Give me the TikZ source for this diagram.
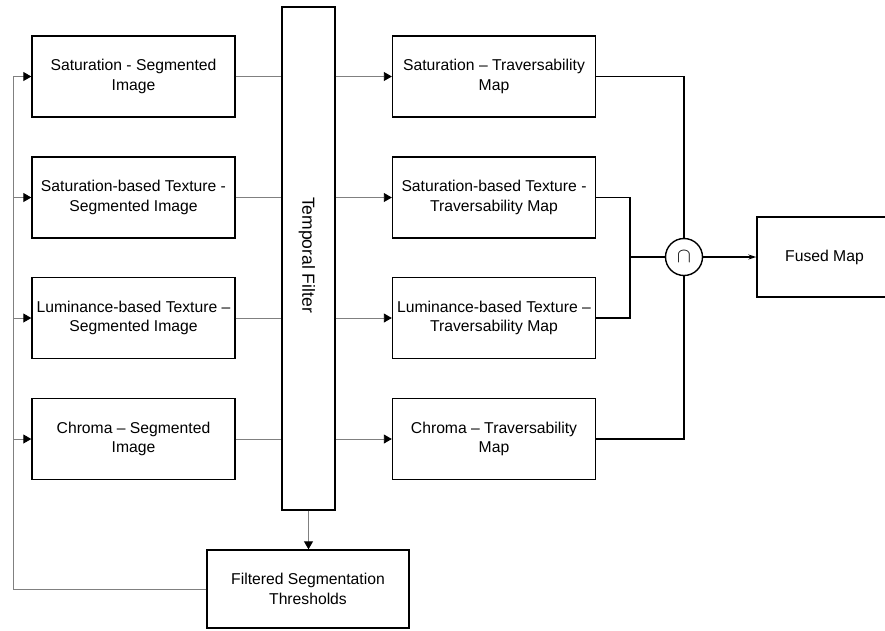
\documentclass[tikz,border=0pt]{standalone}
\usepackage{fontspec}
\setmainfont{Liberation Sans}
\usetikzlibrary{arrows.meta}
\tikzstyle{block} = [rectangle, draw, line width=1.4pt, minimum width=203pt, minimum height=81pt, align=center, inner sep=2pt, font=\fontsize{15.7}{19.5}\selectfont]
\tikzstyle{label} = [align=center, font=\fontsize{17.5}{20}\selectfont]
\tikzstyle{feed} = [draw=gray, line width=0.9pt]
\tikzstyle{reg} = [feed, -{Triangle[length=8pt, width=9pt, color=black]}]
\tikzstyle{bus} = [draw=black, line width=1.4pt]

\begin{document}
\begin{tikzpicture}[x=1pt, y=-1pt]
  \useasboundingbox (0,0) rectangle (885,630);

  % segmented images
  \node[block] (S1) at (133.5,76.5) {Saturation - Segmented\\Image};
  \node[block] (S2) at (133.5,197.5) {Saturation-based Texture -\\Segmented Image};
  \node[block] (S3) at (133.5,318) {Luminance-based Texture --\\Segmented Image};
  \node[block] (S4) at (133.5,439) {Chroma -- Segmented\\Image};

  % temporal filter
  \node[block, minimum width=53pt, minimum height=503pt] (TF) at (308.5,258.5) {};
  \node[label, rotate=-90] (TFtext) at (307,255) {Temporal Filter};

  % traversability maps
  \node[block] (T1) at (494,76.5) {Saturation -- Traversability\\Map};
  \node[block] (T2) at (494,197.5) {Saturation-based Texture -\\Traversability Map};
  \node[block] (T3) at (494,318) {Luminance-based Texture --\\Traversability Map};
  \node[block] (T4) at (494,439) {Chroma -- Traversability\\Map};

  % fusion
  \node[circle, draw, line width=1.4pt, minimum size=37pt, inner sep=0pt, font=\fontsize{20}{20}\selectfont] (cap) at (684,257) {$\cap$};
  \node[block, minimum width=135pt, minimum height=80pt] (F) at (824.5,257) {Fused Map};

  % thresholds
  \node[block, minimum width=202pt, minimum height=78pt] (FT) at (308,589) {Filtered Segmentation\\Thresholds};

  \coordinate (J) at (630,257);
  \coordinate (L) at (13,76.5);

  % into the filter
  \draw[feed] (S1.east) -- (S1.east -| TF.west);
  \draw[feed] (S2.east) -- (S2.east -| TF.west);
  \draw[feed] (S3.east) -- (S3.east -| TF.west);
  \draw[feed] (S4.east) -- (S4.east -| TF.west);

  % out of the filter
  \draw[reg] (TF.east |- T1.west) -- (T1.west);
  \draw[reg] (TF.east |- T2.west) -- (T2.west);
  \draw[reg] (TF.east |- T3.west) -- (T3.west);
  \draw[reg] (TF.east |- T4.west) -- (T4.west);
  \draw[reg] (TF.south) -- (TF.south |- FT.north);

  % feedback of thresholds
  \draw[feed] (FT.west) -| (L);
  \draw[reg] (S1.west -| L) -- (S1.west);
  \draw[reg] (S2.west -| L) -- (S2.west);
  \draw[reg] (S3.west -| L) -- (S3.west);
  \draw[reg] (S4.west -| L) -- (S4.west);

  % intersection of maps
  \draw[bus] (T1.east) -| (cap.north);
  \draw[bus] (T4.east) -| (cap.south);
  \draw[bus] (T2.east) -| (J);
  \draw[bus] (T3.east) -| (J);
  \draw[bus] (J) -- (cap.west);
  \draw[bus, -{Stealth[length=8pt, width=5pt]}] (cap.east) -- (F.west);
\end{tikzpicture}
\end{document}
